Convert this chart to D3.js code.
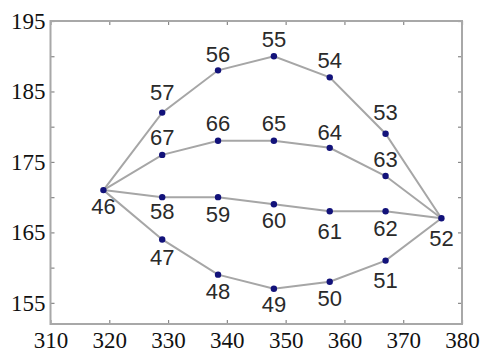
<!DOCTYPE html>
<html>
<head>
<meta charset="utf-8">
<script src="https://cdn.jsdelivr.net/npm/d3@7"></script>
<style>
  html, body { margin: 0; padding: 0; background: #fff; }
  svg { display: block; }
</style>
</head>
<body>
<svg id="chart" width="484" height="356"></svg>
<script>
// Mouth landmark ids and their coordinates
const pointIds = [46, 47, 48, 49, 50, 51, 52, 53, 54, 55, 56, 57, 58, 59, 60, 61, 62, 63, 64, 65, 66, 67];
const pointX   = [319, 329, 338.5, 348, 357.5, 367, 376.5, 367, 357.5, 348, 338.5, 329, 329, 338.5, 348, 357.5, 367, 367, 357.5, 348, 338.5, 329];
const pointY   = [171, 164, 159, 157, 158, 161, 167, 179, 187, 190, 188, 182, 170, 170, 169, 168, 168, 173, 177, 178, 178, 176];
// label placement: vertical distance from the marker, positive = above
const labelShift = [-16, -18, -17, -16, -17, -20, -20, 21, 17, 17, 16, 20, -14, -17, -16, -20, -17, 17, 15, 17, 17, 17];

// Contours joining the landmarks
const contours = [
  [46, 57, 56, 55, 54, 53, 52],  // outer upper lip
  [46, 47, 48, 49, 50, 51, 52],  // outer lower lip
  [46, 67, 66, 65, 64, 63, 52],  // inner upper lip
  [46, 58, 59, 60, 61, 62, 52]   // inner lower lip
];

const xTicks = [310, 320, 330, 340, 350, 360, 370, 380];
const yTicks = [155, 160, 165, 170, 175, 180, 185, 190, 195];
const yTickLabels = [155, 165, 175, 185, 195];

const points = pointIds.map((id, i) => ({ id, x: pointX[i], y: pointY[i], shift: labelShift[i] }));
const byId = new Map(points.map(p => [p.id, p]));

const svg = d3.select("#chart");
const plot = { left: 50.5, right: 462, top: 21, bottom: 324 };

const x = d3.scaleLinear().domain([310, 380]).range([plot.left, plot.right]);
const y = d3.scaleLinear().domain([152, 195]).range([plot.bottom, plot.top]);

const frameColor = "#a8a8a8";
const serifFont = "Liberation Serif";

// Axes with inward ticks on all four sides
const axisStyle = g => {
  g.attr("font-family", serifFont).attr("font-size", 23);
  g.select(".domain").remove();
  g.selectAll(".tick line").attr("stroke", "#888").attr("stroke-width", 1.2);
  g.selectAll(".tick text")
    .attr("font-family", serifFont)
    .attr("fill", "#111");
};

svg.append("g")
  .attr("transform", `translate(0,${plot.bottom})`)
  .call(d3.axisBottom(x).tickValues(xTicks).tickSizeInner(-4).tickSizeOuter(0).tickPadding(8).tickFormat(d3.format("d")))
  .call(axisStyle);

svg.append("g")
  .attr("transform", `translate(0,${plot.top})`)
  .call(d3.axisTop(x).tickValues(xTicks).tickSizeInner(-4).tickSizeOuter(0).tickFormat(""))
  .call(axisStyle);

svg.append("g")
  .attr("transform", `translate(${plot.left},0)`)
  .call(d3.axisLeft(y).tickValues(yTicks).tickSizeInner(-4).tickSizeOuter(0).tickPadding(5)
    .tickFormat(d => yTickLabels.includes(d) ? d3.format("d")(d) : ""))
  .call(axisStyle);

svg.append("g")
  .attr("transform", `translate(${plot.right},0)`)
  .call(d3.axisRight(y).tickValues(yTicks).tickSizeInner(-4).tickSizeOuter(0).tickFormat(""))
  .call(axisStyle);

// Plot box
svg.append("rect")
  .attr("x", plot.left).attr("y", plot.top)
  .attr("width", plot.right - plot.left).attr("height", plot.bottom - plot.top)
  .attr("fill", "none")
  .attr("stroke", frameColor)
  .attr("stroke-width", 2);

// Contour lines
const line = d3.line().x(d => x(d.x)).y(d => y(d.y));
svg.append("g")
  .selectAll("path")
  .data(contours)
  .join("path")
  .attr("d", c => line(c.map(id => byId.get(id))))
  .attr("fill", "none")
  .attr("stroke", "#a6a6a6")
  .attr("stroke-width", 2);

// Landmark markers
svg.append("g")
  .selectAll("circle")
  .data(points)
  .join("circle")
  .attr("cx", d => x(d.x))
  .attr("cy", d => y(d.y))
  .attr("r", 3.2)
  .attr("fill", "#12127a");

// Landmark numbers
svg.append("g")
  .selectAll("text")
  .data(points)
  .join("text")
  .attr("x", d => x(d.x))
  .attr("y", d => y(d.y) - d.shift)
  .attr("text-anchor", "middle")
  .attr("dominant-baseline", "central")
  .attr("font-family", "Liberation Sans")
  .attr("font-size", 22)
  .attr("fill", "#2a2a2a")
  .text(d => d.id);
</script>
</body>
</html>
